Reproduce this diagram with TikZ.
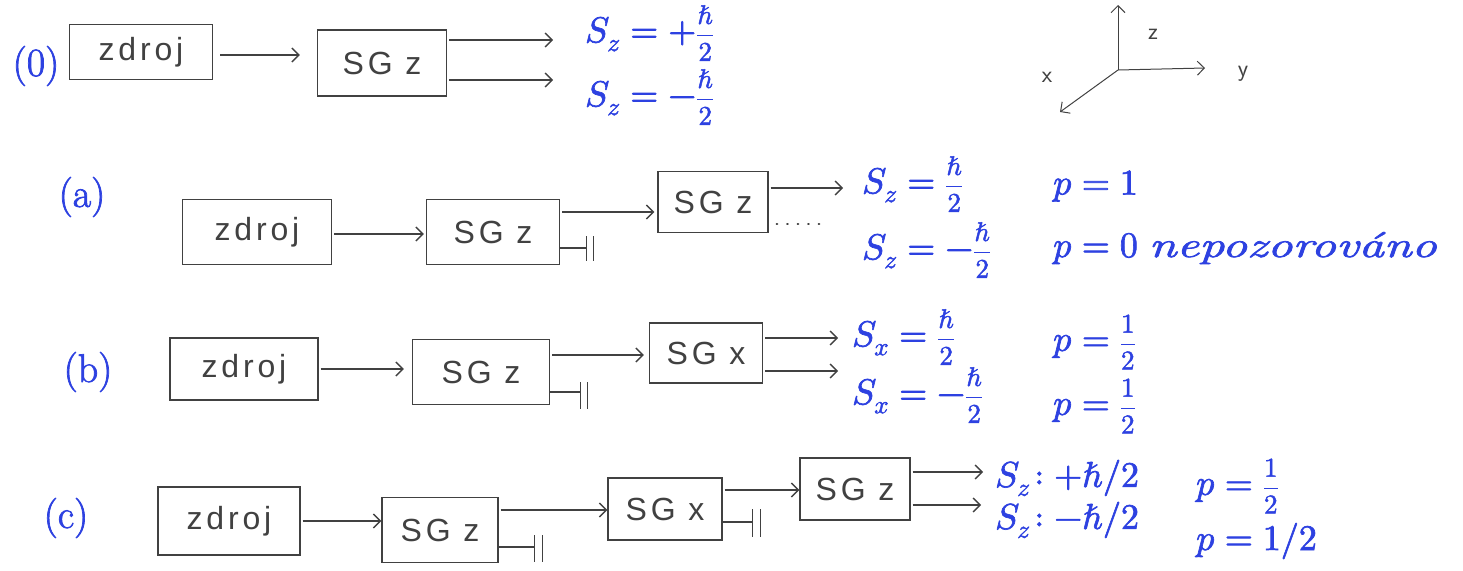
\documentclass[tikz,border=0pt]{standalone}
\usepackage{amsmath}
\usepackage{fontspec}
\usepackage{unicode-math}
\setmathfont{Latin Modern Math}[FakeBold=1.8]
\usetikzlibrary{arrows.meta}
\newfontfamily\pencilfont{Liberation Sans}[LetterSpace=12]
\newfontfamily\inkfont{Latin Modern Roman}[FakeBold=1.8]
\newcommand\halfof[1]{\mbox{\fontsize{27}{29}\selectfont$\displaystyle\frac{#1}{2}$}}
\definecolor{ink}{RGB}{45,65,225}
\definecolor{pencil}{RGB}{65,65,65}
\begin{document}
\begin{tikzpicture}[x=1pt,y=-1pt,
  box/.style={draw=pencil, line width=1.4pt, text=pencil, inner sep=0pt,
              font=\pencilfont\fontsize{32}{36}\selectfont},
  arr/.style={draw=pencil, line width=1.3pt, -{Straight Barb[length=7pt,width=14pt]}, shorten <=2pt},
  stub/.style={draw=pencil, line width=1.4pt},
  lbl/.style={text=ink, anchor=west, inner sep=0pt, font=\inkfont\fontsize{36}{40}\selectfont},
  tag/.style={text=ink, font=\inkfont\fontsize{40}{44}\selectfont},
  axlbl/.style={text=pencil, font=\sffamily\fontsize{24}{28}\selectfont},
  dots/.style={draw=pencil, line width=2.2pt, line cap=round, dash pattern=on 0.5pt off 10pt}]
\fill[white] (0,0) rectangle (1463,570);
\path[use as bounding box] (0,0) rectangle (1463,570);

% ---------- row (0)
\node[tag] (t0) at (36,66) {(0)};
\node[box, minimum width=143, minimum height=55] (z0) at (141,52) {zdroj};
\node[box, minimum width=129, minimum height=66] (g0) at (382,63) {SG z};
\draw[arr, shorten >=17pt, shorten <=7pt] ([yshift=-3]z0.east) -- ([yshift=-3]z0.east -| g0.west);
\node[lbl] (l0a) at (585,33) {$S_z = +\halfof{\hbar}$};
\node[lbl] (l0b) at (585,97) {$S_z = -\halfof{\hbar}$};
\draw[arr, shorten >=32pt] ([yshift=23]g0.east) -- ([yshift=23]g0.east -| l0a.west);
\draw[arr, shorten >=32pt] ([yshift=-17]g0.east) -- ([yshift=-17]g0.east -| l0b.west);

% ---------- axes
\coordinate (O) at (1118,70);
\coordinate (AZ) at (1118,5);
\coordinate (AY) at (1205,68);
\coordinate (AX) at (1060,112);
\draw[arr, line width=1pt, shorten <=0pt] (O) -- (AZ);
\draw[arr, line width=1pt, shorten <=0pt] (O) -- (AY);
\draw[arr, line width=1pt, shorten <=0pt] (O) -- (AX);
\node[axlbl] (lz) at (1153,34) {z};
\node[axlbl] (ly) at (1243,74) {y};
\node[axlbl] (lx) at (1047,77) {x};

% ---------- row (a)
\node[tag] (ta) at (82,197) {(a)};
\node[box, minimum width=149, minimum height=65] (za) at (257,232) {zdroj};
\node[box, minimum width=133, minimum height=65] (ga) at (493,232) {SG z};
\node[box, minimum width=110, minimum height=61] (ga2) at (713,202) {SG z};
\draw[arr, shorten >=2pt] ([yshift=-2]za.east) -- ([yshift=-2]za.east -| ga.west);
\draw[arr, shorten >=3pt] ([yshift=20]ga.east) -- ([yshift=20]ga.east -| ga2.west);
\coordinate (ba) at ([xshift=26,yshift=-16]ga.east);
\draw[stub] ([yshift=-16]ga.east) -- (ba);
\draw[stub] ([yshift=12]ba) -- ([yshift=-13]ba);
\draw[stub] ([xshift=7,yshift=12]ba) -- ([xshift=7,yshift=-13]ba);
\node[lbl] (la1) at (862,184) {$S_z = \halfof{\hbar}$};
\node[lbl] (la2) at (862,250) {$S_z = -\halfof{\hbar}$};
\node[lbl] (pa1) at (1053,186) {$p = 1$};
\node[lbl] (pa2) at (1053,248) {$p = 0$ \scalebox{1.4}[1]{\itshape nepozorováno}};
\draw[arr, shorten >=19pt] ([yshift=14]ga2.east) -- ([yshift=14]ga2.east -| la1.west);
\coordinate (da) at ([xshift=60,yshift=-22]ga2.east);
\draw[dots] ([xshift=8,yshift=-22]ga2.east) -- (da);

% ---------- row (b)
\node[tag] (tb) at (88,372) {(b)};
\node[box, minimum width=148, minimum height=62] (zb) at (244,369) {zdroj};
\node[box, minimum width=137, minimum height=65] (gb) at (481,372) {SG z};
\node[box, minimum width=113, minimum height=60] (xb) at (706,353) {SG x};
\draw[arr, shorten >=8pt] (zb.east) -- (zb.east -| gb.west);
\draw[arr, shorten >=5pt] ([yshift=17]gb.east) -- ([yshift=17]gb.east -| xb.west);
\coordinate (bb) at ([xshift=30,yshift=-20]gb.east);
\draw[stub] ([yshift=-20]gb.east) -- (bb);
\draw[stub] ([yshift=10]bb) -- ([yshift=-17]bb);
\draw[stub] ([xshift=7,yshift=10]bb) -- ([xshift=7,yshift=-17]bb);
\node[lbl] (lb1) at (852,337) {$S_x = \halfof{\hbar}$};
\node[lbl] (lb2) at (852,395) {$S_x = -\halfof{\hbar}$};
\node[lbl] (pb1) at (1053,342) {$p = \halfof{1}$};
\node[lbl] (pb2) at (1053,406) {$p = \halfof{1}$};
\draw[arr, shorten >=14pt] ([yshift=15]xb.east) -- ([yshift=15]xb.east -| lb1.west);
\draw[arr, shorten >=14pt] ([yshift=-18]xb.east) -- ([yshift=-18]xb.east -| lb2.west);

% ---------- row (c)
\node[tag] (tc) at (66,518) {(c)};
\node[box, minimum width=142, minimum height=68] (zc) at (229,521) {zdroj};
\node[box, minimum width=116, minimum height=65] (gc) at (440,530) {SG z};
\node[box, minimum width=114, minimum height=62] (xc) at (665,509) {SG x};
\node[box, minimum width=110, minimum height=62] (gc2) at (855,489) {SG z};
\draw[arr, shorten >=0pt] (zc.east) -- (zc.east -| gc.west);
\draw[arr, shorten >=0pt] ([yshift=20]gc.east) -- ([yshift=20]gc.east -| xc.west);
\draw[arr, shorten >=0pt] ([yshift=19]xc.east) -- ([yshift=19]xc.east -| gc2.west);
\coordinate (bc) at ([xshift=36,yshift=-17]gc.east);
\draw[stub] ([yshift=-17]gc.east) -- (bc);
\draw[stub] ([yshift=12]bc) -- ([yshift=-15]bc);
\draw[stub] ([xshift=8,yshift=12]bc) -- ([xshift=8,yshift=-15]bc);
\coordinate (bc2) at ([xshift=30,yshift=-13]xc.east);
\draw[stub] ([yshift=-13]xc.east) -- (bc2);
\draw[stub] ([yshift=13]bc2) -- ([yshift=-15]bc2);
\draw[stub] ([xshift=8,yshift=13]bc2) -- ([xshift=8,yshift=-15]bc2);
\node[lbl] (lc1) at (995,478) {$S_z\!: +\hbar/2$};
\node[lbl] (lc2) at (995,520) {$S_z\!: -\hbar/2$};
\node[lbl] (pc1) at (1196,486) {$p = \halfof{1}$};
\node[lbl] (pc2) at (1196,541) {$p = 1/2$};
\draw[arr, shorten >=12pt] ([yshift=17]gc2.east) -- ([yshift=17]gc2.east -| lc1.west);
\draw[arr, shorten >=14pt] ([yshift=-16]gc2.east) -- ([yshift=-16]gc2.east -| lc2.west);
\end{tikzpicture}
\end{document}
